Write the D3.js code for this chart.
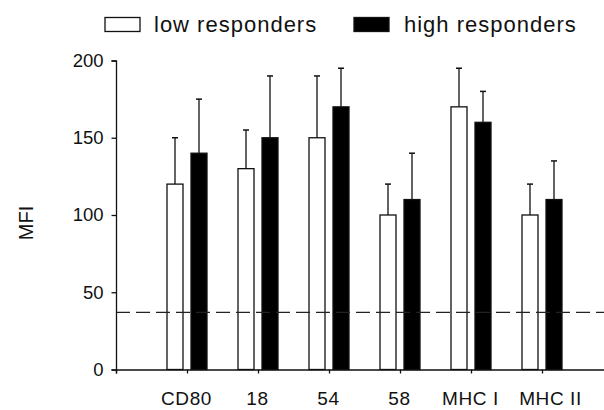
<!DOCTYPE html>
<html>
<head>
<meta charset="utf-8">
<script src="https://cdn.jsdelivr.net/npm/d3@7"></script>
<style>
	body { margin: 0; background: #fff; }
	svg { display: block; font-family: "Liberation Sans", Arial, sans-serif; }
	.axis path, .axis line { stroke: #111; stroke-width: 1.3; }
	.axis text { fill: #111; }
</style>
</head>
<body>
<div class="chart"></div>
<script>
const categories = ["CD80", "18", "54", "58", "MHC I", "MHC II"];
const lowMeans = [120, 130, 150, 100, 170, 100];
const lowErrors = [30, 25, 40, 20, 25, 20];
const highMeans = [140, 150, 170, 110, 160, 110];
const highErrors = [35, 40, 25, 30, 20, 25];
const seriesNames = ["low responders", "high responders"];
const yTicks = [0, 50, 100, 150, 200];
const cutoff = 37;

const width = 604, height = 410;

const svg = d3.select(".chart").append("svg")
	.attr("width", width)
	.attr("height", height);

// x is an index scale: 0 is the y axis, categories sit at 1..6
const xScale = d3.scaleLinear()
	.domain([0, 7])
	.range([116, 613]);

const yScale = d3.scaleLinear()
	.domain([0, 200])
	.range([369.5, 60.5]);

const subScale = d3.scaleBand()
	.domain(["low", "high"])
	.range([-20, 20])
	.paddingInner(1 / 3);

const rows = categories.map((c, i) => ({
	cat: c,
	i: i + 1,
	low: lowMeans[i], lowErr: lowErrors[i],
	high: highMeans[i], highErr: highErrors[i]
}));

const bars = [];
rows.forEach(r => {
	bars.push({ i: r.i, key: "low", v: r.low, e: r.lowErr });
	bars.push({ i: r.i, key: "high", v: r.high, e: r.highErr });
});

// error bars (upper only)
svg.selectAll(".err")
	.data(bars)
	.enter()
	.append("line")
	.attr("class", "err")
	.attr("x1", d => xScale(d.i) + subScale(d.key) + subScale.bandwidth() / 2)
	.attr("x2", d => xScale(d.i) + subScale(d.key) + subScale.bandwidth() / 2)
	.attr("y1", d => yScale(d.v))
	.attr("y2", d => yScale(d.v + d.e))
	.attr("stroke", "#111")
	.attr("stroke-width", 1.3);

svg.selectAll(".cap")
	.data(bars)
	.enter()
	.append("line")
	.attr("class", "cap")
	.attr("x1", d => xScale(d.i) + subScale(d.key) + subScale.bandwidth() / 2 - 3)
	.attr("x2", d => xScale(d.i) + subScale(d.key) + subScale.bandwidth() / 2 + 3)
	.attr("y1", d => yScale(d.v + d.e))
	.attr("y2", d => yScale(d.v + d.e))
	.attr("stroke", "#111")
	.attr("stroke-width", 1.5);

svg.selectAll(".bar")
	.data(bars)
	.enter()
	.append("rect")
	.attr("class", "bar")
	.attr("x", d => xScale(d.i) + subScale(d.key))
	.attr("y", d => yScale(d.v))
	.attr("width", subScale.bandwidth())
	.attr("height", d => yScale(0) - yScale(d.v))
	.attr("fill", d => d.key == "low" ? "#fff" : "#000")
	.attr("stroke", "#111")
	.attr("stroke-width", 1.3);

// dashed cutoff line
svg.append("line")
	.attr("x1", xScale(0))
	.attr("x2", width)
	.attr("y1", yScale(cutoff))
	.attr("y2", yScale(cutoff))
	.attr("stroke", "#222")
	.attr("stroke-width", 1.2)
	.attr("stroke-dasharray", "14,6");

const xAxis = d3.axisBottom()
	.scale(xScale)
	.tickValues(d3.range(0, categories.length + 1))
	.tickFormat(i => i == 0 ? "" : categories[i - 1])
	.tickSizeOuter(0)
	.tickSize(4)
	.tickPadding(18);

const gx = svg.append("g")
	.attr("class", "axis x-axis")
	.attr("transform", `translate(0, ${yScale(0)})`)
	.call(xAxis);

gx.selectAll("text")
	.attr("font-size", "19px")
	.attr("letter-spacing", "0.6px")
	.attr("dx", (d, i) => d == categories.length ? 8 : -1);

const yAxis = d3.axisLeft()
	.scale(yScale)
	.tickValues(yTicks)
	.tickSizeOuter(0)
	.tickSize(4.5)
	.tickPadding(8);

svg.append("g")
	.attr("class", "axis y-axis")
	.attr("transform", `translate(${xScale(0)}, 0)`)
	.call(yAxis)
	.selectAll("text")
	.attr("font-size", "18.5px");

svg.append("text")
	.attr("class", "y label")
	.attr("text-anchor", "middle")
	.attr("transform", "translate(33, 223) rotate(-90)")
	.attr("font-size", "20px")
	.attr("fill", "#111")
	.text("MFI");

// legend
const legendX = [105, 354];
const legendText = [154, 404];

svg.selectAll(".legbox")
	.data(seriesNames)
	.enter()
	.append("rect")
	.attr("class", "legbox")
	.attr("x", (d, i) => legendX[i])
	.attr("y", 17.5)
	.attr("width", 35)
	.attr("height", 14)
	.attr("fill", (d, i) => i == 0 ? "#fff" : "#000")
	.attr("stroke", "#111")
	.attr("stroke-width", 1.3);

svg.selectAll(".legtext")
	.data(seriesNames)
	.enter()
	.append("text")
	.attr("class", "legtext")
	.attr("x", (d, i) => legendText[i])
	.attr("y", 32)
	.attr("font-size", "22px")
	.attr("letter-spacing", "1px")
	.attr("fill", "#111")
	.text(d => d);
</script>
</body>
</html>
